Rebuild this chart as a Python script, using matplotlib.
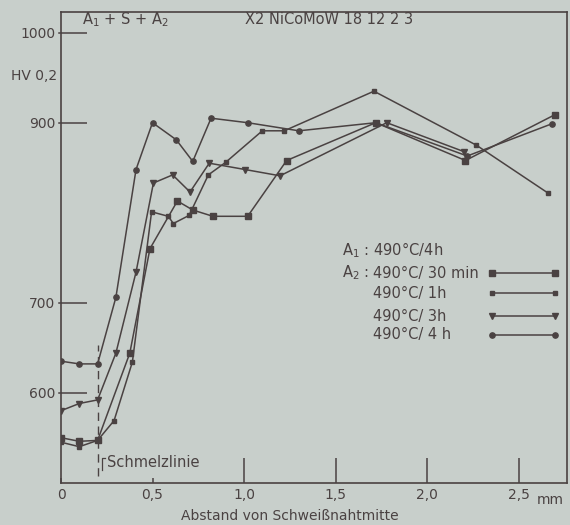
import matplotlib
matplotlib.use("Agg")
import matplotlib.pyplot as plt

# ---- data ----
x_30min = [0, 0.1, 0.2, 0.376, 0.486, 0.636, 0.72, 0.83, 1.02, 1.233, 1.72, 2.21, 2.70]
y_30min = [550, 546, 547, 644, 760, 813, 803, 796, 796, 858, 900, 858, 909]

x_1h = [0, 0.1, 0.2, 0.29, 0.39, 0.495, 0.586, 0.614, 0.70, 0.805, 0.90, 1.10, 1.22, 1.71, 2.27, 2.66]
y_1h = [545, 540, 547, 569, 634, 801, 796, 788, 797, 842, 856, 891, 891, 935, 875, 822]

x_3h = [0, 0.1, 0.2, 0.3, 0.41, 0.505, 0.61, 0.705, 0.81, 1.005, 1.197, 1.78, 2.20]
y_3h = [580, 588, 592, 644, 734, 833, 842, 823, 855, 848, 841, 900, 868]

x_4h = [0, 0.1, 0.2, 0.3, 0.41, 0.5, 0.63, 0.72, 0.82, 1.02, 1.30, 1.72, 2.22, 2.685]
y_4h = [635, 632, 632, 706, 848, 900, 881, 857, 905, 900, 891, 900, 863, 899]

series_labels = ["490°C/ 30 min", "490°C/ 1h", "490°C/ 3h", "490°C/ 4 h"]
y_ticks = [600, 700, 900, 1000]
x_major = [1.0, 1.5, 2.0, 2.5]
x_major_labels = ["1,0", "1,5", "2,0", "2,5"]
x_minor = [0, 0.5]
x_minor_labels = ["0", "0,5"]
schmelzlinie_x = 0.2

BG = "#c8cfcb"
INK = "#4a4242"
PX = 0.72  # points per pixel at 100 dpi

plt.rcParams['font.family'] = ['DejaVu Sans']
fig = plt.figure(figsize=(5.7, 5.25), dpi=100, facecolor=BG)
ax = fig.add_axes([61/570, 1 - 482.7/525, 506/570, 470.7/525])
ax.set_facecolor(BG)
ax.set_xlim(0, 2.765)
ax.set_ylim(500, 1023)

for sp in ax.spines.values():
    sp.set_color(INK)
    sp.set_linewidth(1.2)

common = dict(color=INK, lw=1.1, markeredgecolor=INK, markerfacecolor=INK)
series = [
    (x_30min, y_30min, 's', 4.0),
    (x_1h, y_1h, 's', 2.6),
    (x_3h, y_3h, 'v', 4.0),
    (x_4h, y_4h, 'o', 3.8),
]
for xs, ys, m, ms in series:
    ax.plot(xs, ys, marker=m, markersize=ms, **common)

# Schmelzlinie
ax.plot([schmelzlinie_x, schmelzlinie_x], [508, 653], color=INK, lw=1.0, ls=(0, (6, 4)))
ax.plot([0.225, 0.225, 0.24], [514, 528, 528], color=INK, lw=0.9)
ax.text(0.25, 522, "Schmelzlinie", color=INK, fontsize=10.5, va='center', ha='left')

# y ticks
ax.set_yticks(y_ticks)
ax.set_yticklabels([str(v) for v in y_ticks], fontsize=10, color=INK)
ax.tick_params(axis='y', direction='in', length=26 * PX, width=1.1, color=INK, pad=4)
for v in y_ticks:
    ax.plot([-0.012, 0], [v, v], color=INK, lw=1.1, clip_on=False)

# x ticks
ax.set_xticks(x_major)
ax.set_xticklabels(x_major_labels, fontsize=10, color=INK)
ax.set_xticks(x_minor, minor=True)
ax.set_xticklabels(x_minor_labels, minor=True, fontsize=10, color=INK)
ax.tick_params(axis='x', which='major', direction='in', length=25 * PX, width=1.1,
               color=INK, pad=4)
ax.tick_params(axis='x', which='minor', direction='in', length=5 * PX, width=1.1,
               color=INK, pad=4)

fig.text(550/570, 1 - 500/525, "mm", fontsize=10, color=INK, ha='center', va='center')
fig.text(290/570, 1 - 516/525, "Abstand von Schweißnahtmitte", fontsize=10, color=INK,
         ha='center', va='center')
fig.text(57/570, 1 - 76/525, "HV 0,2", fontsize=10, color=INK, ha='right', va='center')

# header texts
ax.text(0.0415, 0.983, r"A$_1$ + S + A$_2$", transform=ax.transAxes, fontsize=10.5,
        color=INK, ha='left', va='center')
ax.text(0.364, 0.985, "X2 NiCoMoW 18 12 2 3", transform=ax.transAxes, fontsize=10.5,
        color=INK, ha='left', va='center')

# legend (manual)
ax.text(0.555, 0.494, r"A$_1$ : 490°C/4h", transform=ax.transAxes, fontsize=10.5,
        color=INK, ha='left', va='center')
ax.text(0.555, 0.4455, r"A$_2$ :", transform=ax.transAxes, fontsize=10.5,
        color=INK, ha='left', va='center')
leg_y = [0.4455, 0.403, 0.354, 0.314]
for (xs, ys, m, ms), lab, yy in zip(series, series_labels, leg_y):
    ax.text(0.617, yy, lab, transform=ax.transAxes, fontsize=10.5, color=INK,
            ha='left', va='center')
    ax.plot([0.852, 0.976], [yy, yy], transform=ax.transAxes, marker=m,
            markersize=ms, clip_on=False, **common)

fig.savefig("out.png", dpi=100, facecolor=BG)
